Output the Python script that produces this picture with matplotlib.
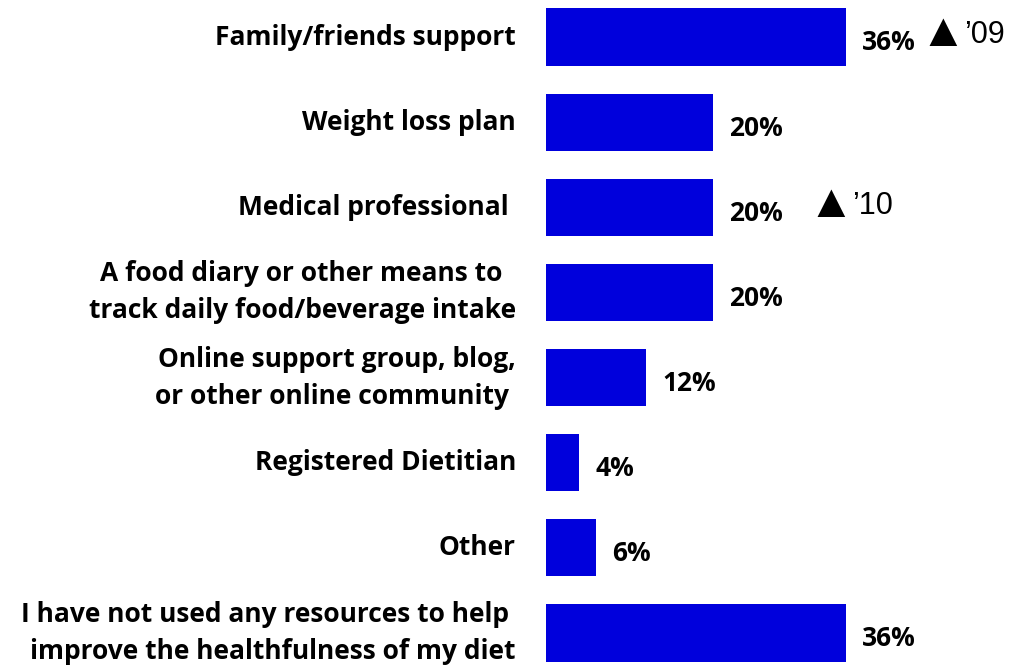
import matplotlib
matplotlib.use("Agg")
import matplotlib.pyplot as plt

categories = [
    "Family/friends support",
    "Weight loss plan",
    "Medical professional ",
    "A food diary or other means to  \ntrack daily food/beverage intake",
    "Online support group, blog,\nor other online community ",
    "Registered Dietitian",
    "Other",
    "I have not used any resources to help \nimprove the healthfulness of my diet",
]
values = [36, 20, 20, 20, 12, 4, 6, 36]
# trend markers: (category index, year label)
trend_marks = [(0, "\u201909"), (2, "\u201910")]

W, H = 1011, 666
fig = plt.figure(figsize=(W / 100, H / 100), dpi=100)
x0_px = 546
ax = fig.add_axes([x0_px / W, 0, 1 - x0_px / W, 1])
px_per_unit = 300 / 36.0
ax.set_xlim(0, (W - x0_px) / px_per_unit)
step = 85.14
ax.set_ylim(7 + 33 / step, -37 / step)
ax.axis("off")

ypos = list(range(len(categories)))
ax.barh(ypos, values, height=0.67, color="#0000DC", edgecolor="none")

font = "Open Sans"
for y, v, lab in zip(ypos, values, categories):
    ax.text(v + 16 / px_per_unit, y + 0.07, f"{v}%", ha="left", va="center",
            fontsize=19, fontweight="bold", family=font, color="black")
    ax.text(-30 / px_per_unit, y, lab, ha="right", va="center",
            multialignment="right", fontsize=19, fontweight="bold",
            family=font, color="black", linespacing=1.48, clip_on=False)

# significance markers
tri_x = {0: 919, 2: 807}
yr_x = {0: 964, 2: 852}
sym_font = ["Liberation Sans", "DejaVu Sans"]
for idx, yr in trend_marks:
    ax.text((tri_x[idx] - x0_px) / px_per_unit, idx - 0.03, "\u25B2",
            ha="left", va="center", fontsize=34, family=sym_font, color="black")
    ax.text((yr_x[idx] - x0_px) / px_per_unit, idx - 0.02, yr,
            ha="left", va="center", fontsize=22, family=sym_font, color="black")

fig.savefig("out.png", dpi=100)
